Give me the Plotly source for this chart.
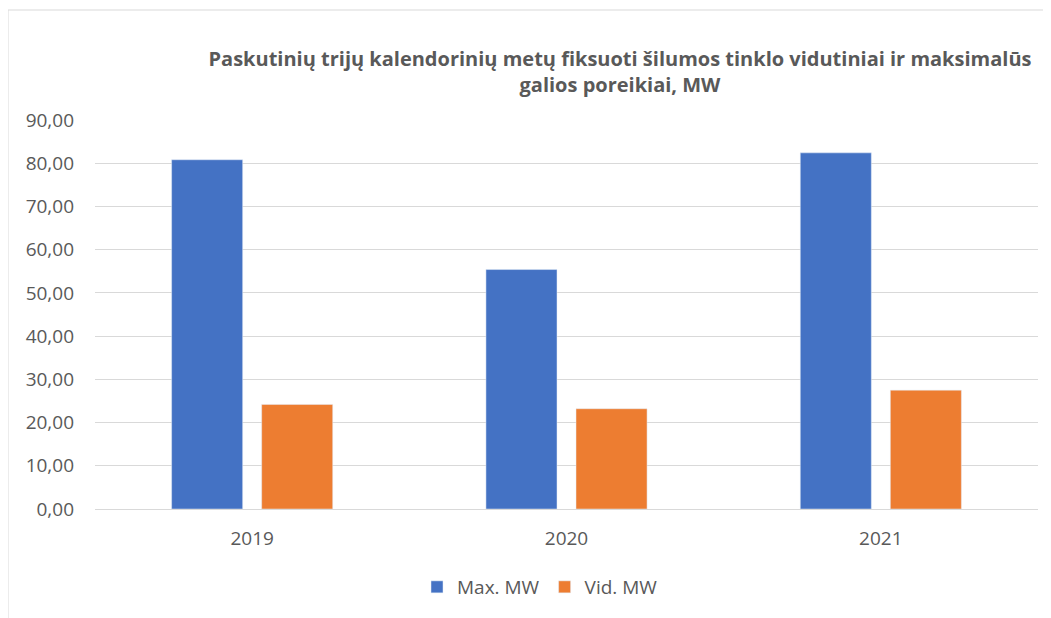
import plotly.graph_objects as go

years = ["2019", "2020", "2021"]
max_mw = [80.8, 55.4, 82.4]
vid_mw = [24.2, 23.2, 27.5]
y_ticks = [0, 10, 20, 30, 40, 50, 60, 70, 80, 90]
y_tick_labels = ["0,00", "10,00", "20,00", "30,00", "40,00", "50,00", "60,00", "70,00", "80,00", "90,00"]
title_text = ("Paskutinių trijų kalendorinių metų fiksuoti šilumos tinklo vidutiniai ir maksimalūs"
              "<br>galios poreikiai, MW")

W, H = 1051, 618
OFF = 8  # page body margin offset
L, T = 95 - OFF, 120 - OFF
R = W - (1038 - OFF)
B = H - (509 - OFF)
pw, ph = W - L - R, H - T - B


def px_x(sx):
    return (sx - OFF - L) / pw


def px_y(sy):
    return (H - B - (sy - OFF)) / ph


fig = go.Figure()
fig.add_trace(go.Bar(x=years, y=max_mw, name="Max. MW", marker_color="#4472C4"))
fig.add_trace(go.Bar(x=years, y=vid_mw, name="Vid. MW", marker_color="#ED7D31"))

font_fam = "Open Sans, Noto Sans, sans-serif"
fig.update_layout(
    width=W, height=H,
    margin=dict(l=L, r=R, t=T, b=B),
    paper_bgcolor="white", plot_bgcolor="white",
    barmode="group", bargap=0.427, bargroupgap=0.211,
    title=dict(text=title_text, x=(620 - OFF) / W, xanchor="center", y=1 - (66 - OFF) / H, yanchor="middle",
               font=dict(family=font_fam, size=20, color="#595959", weight="bold")),
    font=dict(family=font_fam, size=19, color="#595959"),
    showlegend=True,
    legend=dict(orientation="h", x=px_x(540), xanchor="center", y=px_y(587), yanchor="middle",
                font=dict(size=19, color="#595959"), traceorder="normal"),
    xaxis=dict(showgrid=False, showline=False, ticks="", ticklabelstandoff=16,
               tickfont=dict(size=19, color="#595959")),
    yaxis=dict(range=[0, 90], tickvals=y_ticks, ticktext=y_tick_labels, showgrid=True,
               gridcolor="#D9D9D9", gridwidth=1, zeroline=True, zerolinecolor="#D9D9D9", zerolinewidth=1,
               showline=False, ticks="", ticklabelstandoff=20,
               tickfont=dict(size=19, color="#595959")),
    shapes=[dict(type="rect", xref="paper", yref="paper",
                 x0=px_x(8), x1=px_x(1070), y0=px_y(640), y1=px_y(10),
                 line=dict(color="#D9D9D9", width=1), fillcolor="rgba(0,0,0,0)", layer="below")],
)
fig.write_html("out.html")
